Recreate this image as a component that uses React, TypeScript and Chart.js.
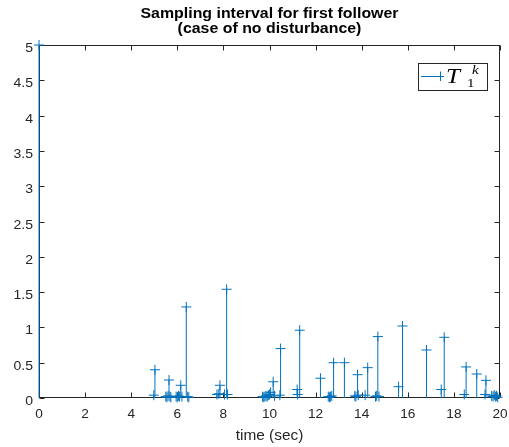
import React, { useEffect, useRef } from "react";
import { Chart, registerables } from "chart.js";
Chart.register(...registerables);

const titleLines = ["Sampling interval for first follower", "(case of no disturbance)"];
const xLabel = "time (sec)";
const xTicks = [0, 2, 4, 6, 8, 10, 12, 14, 16, 18, 20];
const yTicks = [0, 0.5, 1, 1.5, 2, 2.5, 3, 3.5, 4, 4.5, 5];

const times = [
  0,
  4.98, 5.03,
  5.5, 5.55, 5.6, 5.64, 5.68, 5.72,
  5.95, 6.0, 6.05, 6.1, 6.15, 6.2,
  6.39, 6.45, 6.5,
  7.72, 7.8, 7.85, 8.05, 8.14, 8.18,
  9.7, 9.75, 9.8, 9.85, 9.9, 9.95, 10.0, 10.05, 10.16, 10.22, 10.45, 10.48,
  11.2, 11.22, 11.31,
  12.21, 12.55, 12.6, 12.65, 12.7, 12.78, 13.25,
  13.7, 13.75, 13.82, 13.85, 14.15, 14.26,
  14.6, 14.65, 14.7, 14.75,
  15.6, 15.77, 16.81, 17.45, 17.58,
  18.45, 18.53, 18.99, 19.35, 19.39,
  19.64, 19.7, 19.75, 19.8, 19.85, 19.9,
];
const intervals = [
  5,
  0.04, 0.4,
  0.02, 0.01, 0.03, 0.255, 0.02, 0.01,
  0.02, 0.01, 0.03, 0.02, 0.18, 0.02,
  1.29, 0.02, 0.01,
  0.05, 0.06, 0.18, 0.05, 1.54, 0.05,
  0.02, 0.01, 0.02, 0.03, 0.02, 0.04, 0.05, 0.08, 0.23, 0.03, 0.04, 0.7,
  0.12, 0.05, 0.96,
  0.28, 0.02, 0.01, 0.02, 0.03, 0.5, 0.5,
  0.03, 0.02, 0.33, 0.04, 0.04, 0.43,
  0.02, 0.03, 0.87, 0.02,
  0.16, 1.02, 0.68, 0.12, 0.86,
  0.05, 0.44, 0.34, 0.05, 0.25,
  0.03, 0.02, 0.04, 0.02, 0.03, 0.01,
];

const BLUE = "#0072BD";
const AXIS = "#262626";
const SANS = '"Liberation Sans", Arial, sans-serif';
const SERIF = '"Liberation Serif", serif';

function stretchedText(ctx: CanvasRenderingContext2D, text: string, x: number, y: number, align: "left" | "center" | "right", sx: number) {
  const w = ctx.measureText(text).width * sx;
  let left = x;
  if (align === "center") left = x - w / 2;
  else if (align === "right") left = x - w;
  ctx.save();
  ctx.translate(left, y);
  ctx.scale(sx, 1);
  ctx.textAlign = "left";
  ctx.fillText(text, 0, 0);
  ctx.restore();
}

export default function App() {
  const ref = useRef<HTMLCanvasElement>(null);
  useEffect(() => {
    if (!ref.current) return;
    const pts: any[] = [];
    times.forEach((t, i) => {
      pts.push({ x: t, y: 0, m: 0 });
      pts.push({ x: t, y: intervals[i], m: 1 });
      pts.push({ x: t, y: null, m: 0 });
    });

    const boxPlugin = {
      id: "matlabBox",
      beforeDatasetsDraw(chart: any) {
        const { ctx, chartArea: a, scales } = chart;
        ctx.save();
        ctx.strokeStyle = AXIS;
        ctx.lineWidth = 1;
        const L = Math.round(a.left) + 0.5, R = Math.round(a.right) - 0.5;
        const T = Math.round(a.top) + 0.5, B = Math.round(a.bottom) - 0.5;
        ctx.strokeRect(L, T, R - L, B - T);
        ctx.beginPath();
        const tl = 5;
        xTicks.forEach((v) => {
          const x = Math.round(scales.x.getPixelForValue(v)) + 0.5;
          ctx.moveTo(x, B); ctx.lineTo(x, B - tl);
          ctx.moveTo(x, T); ctx.lineTo(x, T + tl);
        });
        yTicks.forEach((v) => {
          const y = Math.round(scales.y.getPixelForValue(v)) + 0.5;
          ctx.moveTo(L, y); ctx.lineTo(L + tl, y);
          ctx.moveTo(R, y); ctx.lineTo(R - tl, y);
        });
        ctx.stroke();

        // tick labels
        ctx.fillStyle = AXIS;
        ctx.textBaseline = "alphabetic";
        ctx.font = `13px ${SANS}`;
        xTicks.forEach((v) => {
          const x = scales.x.getPixelForValue(v);
          stretchedText(ctx, String(v), x, a.bottom + 20, "center", 1.05);
        });
        yTicks.forEach((v) => {
          const y = scales.y.getPixelForValue(v);
          stretchedText(ctx, String(v), a.left - 6, y + 7, "right", 1.08);
        });
        // axis label
        ctx.font = `14px ${SANS}`;
        stretchedText(ctx, xLabel, (a.left + a.right) / 2, 440, "center", 1.1);
        // title
        ctx.fillStyle = "#000";
        ctx.font = `bold 15px ${SANS}`;
        const cx = (a.left + a.right) / 2;
        stretchedText(ctx, titleLines[0], cx, 18, "center", 1.06);
        stretchedText(ctx, titleLines[1], cx, 33, "center", 1.06);
        ctx.restore();
      },
      afterDraw(chart: any) {
        const { ctx } = chart;
        ctx.save();
        // legend
        const lx = 418.5, ly = 63.5, lw = 69, lh = 27;
        ctx.fillStyle = "#fff";
        ctx.fillRect(lx, ly, lw, lh);
        ctx.strokeStyle = AXIS;
        ctx.lineWidth = 1;
        ctx.strokeRect(lx, ly, lw, lh);
        ctx.strokeStyle = BLUE;
        ctx.beginPath();
        ctx.moveTo(421, 76.5); ctx.lineTo(444, 76.5);
        ctx.moveTo(440.5, 71.5); ctx.lineTo(440.5, 81);
        ctx.stroke();
        ctx.fillStyle = "#000";
        ctx.textBaseline = "alphabetic";
        ctx.font = `italic 21px ${SERIF}`;
        stretchedText(ctx, "T", 446, 83, "left", 1.2);
        ctx.font = `13px ${SERIF}`;
        stretchedText(ctx, "1", 467, 87, "left", 1.15);
        ctx.font = `italic 13px ${SERIF}`;
        stretchedText(ctx, "k", 472, 74, "left", 1.15);
        ctx.restore();
      },
    };

    const chart = new Chart(ref.current, {
      type: "line",
      data: {
        datasets: [
          {
            data: pts,
            borderColor: BLUE,
            backgroundColor: BLUE,
            borderWidth: 1,
            pointStyle: "cross",
            pointRadius: (c: any) => (c.raw && c.raw.m ? 5 : 0),
            pointBorderWidth: 1,
            pointBorderColor: BLUE,
            pointHoverRadius: 0,
            spanGaps: false,
            tension: 0,
            clip: false as any,
          } as any,
        ],
      },
      options: {
        animation: false,
        responsive: false,
        devicePixelRatio: 1,
        layout: { padding: { top: 45, right: 9, left: 0, bottom: 0 } },
        plugins: { legend: { display: false }, title: { display: false }, tooltip: { enabled: false } },
        scales: {
          x: {
            type: "linear",
            min: 0,
            max: 20,
            afterBuildTicks: (s: any) => { s.ticks = xTicks.map((v) => ({ value: v })); },
            afterFit: (s: any) => { s.height = 49; s.paddingLeft = 0; s.paddingRight = 0; },
            grid: { display: false, drawTicks: false },
            border: { display: false },
            ticks: { display: false },
            title: { display: false },
          },
          y: {
            type: "linear",
            min: 0,
            max: 5,
            afterBuildTicks: (s: any) => { s.ticks = yTicks.map((v) => ({ value: v })); },
            afterFit: (s: any) => { s.width = 39; s.paddingTop = 0; s.paddingBottom = 0; },
            grid: { display: false, drawTicks: false },
            border: { display: false },
            ticks: { display: false },
          },
        },
      },
      plugins: [boxPlugin],
    } as any);
    return () => chart.destroy();
  }, []);
  return (
    <div style={{ position: "fixed", left: 0, top: 0, width: 509, height: 447, background: "#fff" }}>
      <canvas ref={ref} width={509} height={447} style={{ display: "block" }} />
    </div>
  );
}
